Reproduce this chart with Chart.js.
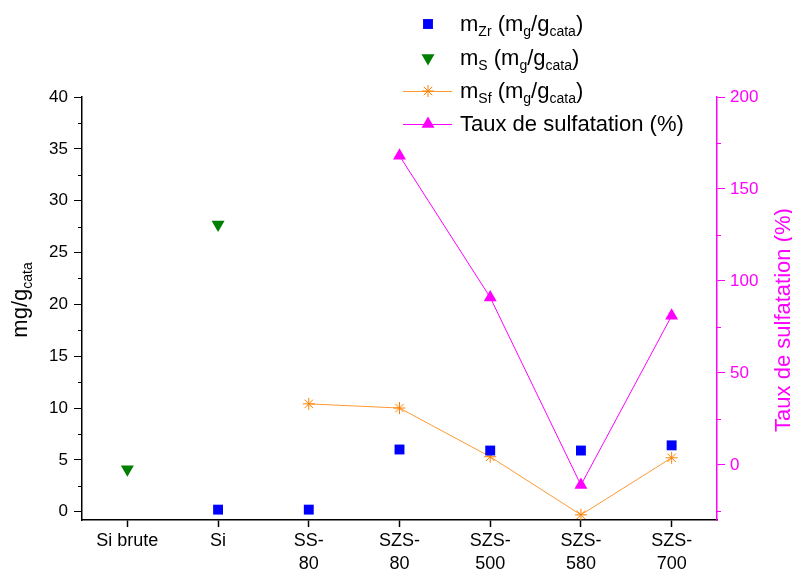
<!DOCTYPE html>
<html>
<head>
<meta charset="utf-8">
<script src="https://cdn.jsdelivr.net/npm/chart.js@4.4.0/dist/chart.umd.min.js"></script>
<style>
  html, body { margin: 0; padding: 0; background: #fff; }
  #wrap { width: 792px; height: 569px; }
</style>
</head>
<body>
<div id="wrap"><canvas id="chart" width="792" height="569"></canvas></div>
<script>
// ---------------------------------------------
// Data
// ---------------------------------------------
const categories = [['Si brute'], ['Si'], ['SS-', '80'], ['SZS-', '80'], ['SZS-', '500'], ['SZS-', '580'], ['SZS-', '700']];

// left axis (mg/g cata)
const mZr = [null, 0.2, 0.2, 6.0, 5.9, 5.9, 6.4];
const mS  = [4.1, 27.7, null, null, null, null, null];
const mSf = [null, null, 10.4, 10.0, 5.3, -0.3, 5.2];
// right axis (%)
const tauxSulf = [null, null, null, 168, 91, -11, 81];

// tick labels
const leftTicks  = [0, 5, 10, 15, 20, 25, 30, 35, 40];
const rightTicks = [0, 50, 100, 150, 200];
const leftMinor  = [2.5, 7.5, 12.5, 17.5, 22.5, 27.5, 32.5, 37.5];
const rightMinor = [-25, 25, 75, 125, 175];

const FONT = '"Liberation Sans", Arial, sans-serif';
const BLUE = '#0000ff', GREEN = '#007f00', ORANGE = '#ff8000', ORANGE_LINE = '#ff9933', MAGENTA = '#ff00ff';

// text with subscripts: parts = [[text, isSub], ...]
function drawRich(ctx, x, y, parts, size, subSize) {
  for (const [t, sub] of parts) {
    ctx.font = (sub ? subSize : size) + 'px ' + FONT;
    ctx.fillText(t, x, sub ? y + 5 : y);
    x += ctx.measureText(t).width;
  }
  return x;
}
function richWidth(ctx, parts, size, subSize) {
  let w = 0;
  for (const [t, sub] of parts) {
    ctx.font = (sub ? subSize : size) + 'px ' + FONT;
    w += ctx.measureText(t).width;
  }
  return w;
}

// ---------------------------------------------
// Extras: minor ticks, axis titles, legend
// ---------------------------------------------
const extras = {
  id: 'extras',
  afterDraw(chart) {
    const ctx = chart.ctx;
    const yL = chart.scales.y, yR = chart.scales.y2;
    const area = chart.chartArea;

    // minor ticks
    ctx.save();
    ctx.lineWidth = 1;
    ctx.strokeStyle = '#000';
    leftMinor.forEach(v => {
      const p = Math.round(yL.getPixelForValue(v)) + 0.5;
      ctx.beginPath(); ctx.moveTo(area.left - 4, p); ctx.lineTo(area.left, p); ctx.stroke();
    });
    ctx.strokeStyle = MAGENTA;
    rightMinor.forEach(v => {
      const p = Math.round(yR.getPixelForValue(v)) + 0.5;
      ctx.beginPath(); ctx.moveTo(area.right, p); ctx.lineTo(area.right + 4, p); ctx.stroke();
    });
    ctx.restore();

    // left axis title
    ctx.save();
    ctx.fillStyle = '#000';
    ctx.textBaseline = 'alphabetic';
    const tl = [['mg/g', false], ['cata', true]];
    const wl = richWidth(ctx, tl, 22, 14);
    ctx.translate(27, 300);
    ctx.rotate(-Math.PI / 2);
    drawRich(ctx, -wl / 2, 0, tl, 22, 14);
    ctx.restore();

    // right axis title
    ctx.save();
    ctx.fillStyle = MAGENTA;
    ctx.font = '22px ' + FONT;
    ctx.textAlign = 'center';
    ctx.textBaseline = 'middle';
    ctx.translate(784, 320);
    ctx.rotate(-Math.PI / 2);
    ctx.fillText('Taux de sulfatation (%)', 0, 0);
    ctx.restore();

    // legend
    const rows = [
      { ds: 0, y: 24, line: false, parts: [['m', false], ['Zr', true], [' (m', false], ['g', true], ['/g', false], ['cata', true], [')', false]] },
      { ds: 1, y: 58, line: false, parts: [['m', false], ['S', true], [' (m', false], ['g', true], ['/g', false], ['cata', true], [')', false]] },
      { ds: 2, y: 91, line: true,  parts: [['m', false], ['Sf', true], [' (m', false], ['g', true], ['/g', false], ['cata', true], [')', false]] },
      { ds: 3, y: 124, line: true, parts: [['Taux de sulfatation (%)', false]] }
    ];
    const mx = 428, tx = 460;
    rows.forEach(r => {
      const d = chart.data.datasets[r.ds];
      ctx.save();
      if (r.line) {
        ctx.strokeStyle = d.borderColor;
        ctx.lineWidth = 1;
        ctx.beginPath(); ctx.moveTo(403, r.y + 0.5); ctx.lineTo(452, r.y + 0.5); ctx.stroke();
      }
      ctx.fillStyle = d.pointBackgroundColor;
      ctx.strokeStyle = d.pointBorderColor;
      ctx.lineWidth = d.pointBorderWidth || 1;
      Chart.helpers.drawPoint(ctx, {
        pointStyle: d.pointStyle, radius: d.pointRadius,
        rotation: d.pointRotation || 0, borderWidth: d.pointBorderWidth
      }, mx, r.y);
      ctx.fillStyle = '#000';
      ctx.textBaseline = 'alphabetic';
      drawRich(ctx, tx, r.y + 7, r.parts, 22, 14);
      ctx.restore();
    });
  }
};

// ---------------------------------------------
// Chart
// ---------------------------------------------
new Chart(document.getElementById('chart'), {
  type: 'line',
  data: {
    labels: categories,
    datasets: [
      {
        label: 'mZr', data: mZr, yAxisID: 'y', showLine: false,
        pointStyle: 'rect', pointRadius: 7, pointBorderWidth: 0,
        pointBackgroundColor: BLUE, pointBorderColor: BLUE, borderColor: BLUE
      },
      {
        label: 'mS', data: mS, yAxisID: 'y', showLine: false,
        pointStyle: 'triangle', pointRotation: 180, pointRadius: 7.5, pointBorderWidth: 0,
        pointBackgroundColor: GREEN, pointBorderColor: GREEN, borderColor: GREEN
      },
      {
        label: 'mSf', data: mSf, yAxisID: 'y',
        borderColor: ORANGE_LINE, borderWidth: 1, tension: 0,
        pointStyle: 'star', pointRadius: 6, pointBorderWidth: 1,
        pointBackgroundColor: ORANGE, pointBorderColor: ORANGE
      },
      {
        label: 'Taux', data: tauxSulf, yAxisID: 'y2',
        borderColor: MAGENTA, borderWidth: 1, tension: 0,
        pointStyle: 'triangle', pointRadius: 7.5, pointBorderWidth: 0,
        pointBackgroundColor: MAGENTA, pointBorderColor: MAGENTA
      }
    ]
  },
  options: {
    responsive: false,
    animation: false,
    devicePixelRatio: 1,
    events: [],
    layout: { padding: { top: 97, left: 0, right: 0, bottom: 0 } },
    plugins: { legend: { display: false }, tooltip: { enabled: false } },
    scales: {
      x: {
        type: 'category',
        offset: true,
        grid: { drawOnChartArea: false, drawTicks: true, tickLength: 7, tickColor: '#000', tickWidth: 1.5, offset: false },
        border: { display: true, color: '#000', width: 1.5 },
        ticks: { color: '#000', font: { family: FONT, size: 18, lineHeight: 1.3 }, padding: 2, maxRotation: 0, autoSkip: false },
        afterFit: s => { s.height = 49; }
      },
      y: {
        position: 'left',
        min: -0.8, max: 40,
        afterBuildTicks: s => { s.ticks = leftTicks.map(v => ({ value: v })); },
        grid: { drawOnChartArea: false, tickLength: 8, tickColor: '#000', tickWidth: 1 },
        border: { display: true, color: '#000', width: 1.5 },
        ticks: { color: '#000', font: { family: FONT, size: 17 }, padding: 6 },
        afterFit: s => { s.width = 82; }
      },
      y2: {
        position: 'right',
        min: -30, max: 200,
        afterBuildTicks: s => { s.ticks = rightTicks.map(v => ({ value: v })); },
        grid: { drawOnChartArea: false, tickLength: 8, tickColor: MAGENTA, tickWidth: 1 },
        border: { display: true, color: MAGENTA, width: 1.5 },
        ticks: { color: MAGENTA, font: { family: FONT, size: 17 }, padding: 5 },
        afterFit: s => { s.width = 75; }
      }
    }
  },
  plugins: [extras]
});
</script>
</body>
</html>
